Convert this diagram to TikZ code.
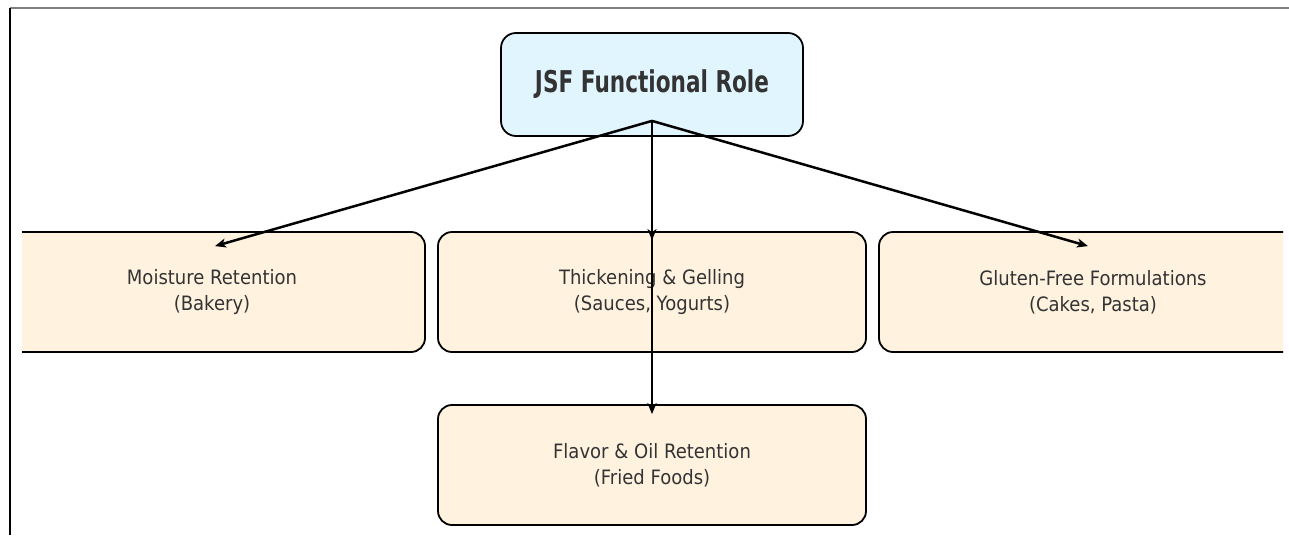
\documentclass[tikz,border=0pt]{standalone}
\usepackage{fontspec}
\setmainfont{DejaVu Sans}
\newfontfamily\rolefont[FakeStretch=0.91]{DejaVu Sans}
\newfontfamily\rootfont[FakeStretch=0.72]{DejaVu Sans}
\usetikzlibrary{arrows.meta}

\definecolor{rootfill}{HTML}{E1F5FE}
\definecolor{rolefill}{HTML}{FFF3E0}
\definecolor{labeltext}{HTML}{333333}

\tikzset{
  rootbox/.style={draw=black, line width=1.8pt, rounded corners=15pt, fill=rootfill,
    minimum width=302pt, minimum height=103pt, text=labeltext,
    font=\rootfont\bfseries\fontsize{30}{36}\selectfont},
  rolebox/.style={draw=black, line width=1.8pt, rounded corners=14pt, fill=rolefill,
    minimum width=428pt, minimum height=120pt, align=center, text=labeltext,
    font=\rolefont\fontsize{19.8}{26.3}\selectfont},
  link/.style={-{Stealth[length=11pt, width=9pt, inset=3pt]}, line width=2.5pt},
}

\begin{document}
\begin{tikzpicture}[x=1pt, y=-1pt]
    % Page frame: pixel units, y running downwards
    \useasboundingbox (0,0) rectangle (1289,535);
    \draw[gray, line width=1.8pt] (10,8) -- (1289,8);
    \draw[line width=1.8pt] (10,8) -- (10,535);

    % --- ROOT ---
    \node[rootbox] (root) at (652,84.5) {JSF Functional Role};

    % --- ROLES (outer boxes run off the sides) ---
    \begin{scope}
        \clip (22,0) rectangle (1283,535);
        \node[rolebox, minimum width=426pt] (moist) at (212,292) {Moisture Retention\\(Bakery)};
        \node[rolebox] (thick) at (652,292) {Thickening \& Gelling\\(Sauces, Yogurts)};
        \node[rolebox] (gluten) at (1093,292) {Gluten-Free Formulations\\(Cakes, Pasta)};
        \node[rolebox] (flavor) at (652,465) {Flavor \& Oil Retention\\(Fried Foods)};
    \end{scope}

    % --- LINKS ---
    \coordinate (hub) at ([yshift=16pt]root.south);
    \coordinate (moist-in) at ([xshift=3pt, yshift=-15pt]moist.north);
    \coordinate (thick-in) at ([yshift=-9pt]thick.north);
    \coordinate (gluten-in) at ([xshift=-5pt, yshift=-15pt]gluten.north);
    \coordinate (flavor-in) at ([yshift=-10pt]flavor.north);

    \foreach \role in {moist, thick, gluten, flavor}
        \draw[link] (hub) -- (\role-in);
\end{tikzpicture}
\end{document}
